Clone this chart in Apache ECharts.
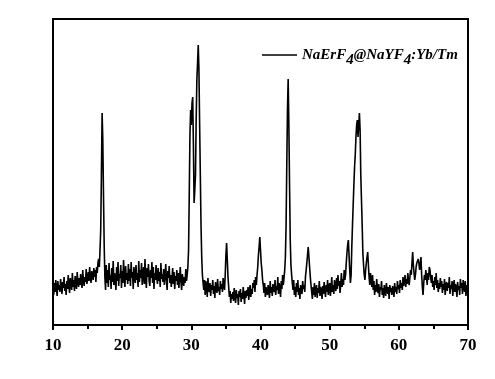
<!DOCTYPE html>
<html>
<head>
<meta charset="utf-8">
<script src="https://cdn.jsdelivr.net/npm/echarts@6/dist/echarts.min.js"></script>
<style>html,body{margin:0;padding:0;background:#fff}#c{width:495px;height:379px}</style>
</head>
<body>
<div id="c"></div>
<script>
// 2-theta scan: start 10 deg, step 0.1 deg
const twoThetaStart = 10;
const twoThetaStep = 0.1;
const xTicks = [10, 20, 30, 40, 50, 60, 70];
const seriesName = 'NaErF4@NaYF4:Yb/Tm';
// intensity (arbitrary units), one value per step
const intensity = [
38,30,42,33,45,36,29,44,35,40,
33,46,38,31,43,37,48,34,41,30,
44,36,50,39,32,47,40,35,52,38,
45,34,49,41,36,53,43,38,47,40,
51,42,37,55,44,39,48,43,56,41,
46,53,44,58,47,42,54,49,45,57,
48,55,43,58,52,62,66,58,75,95,
150,212,185,130,80,48,35,60,42,55,
38,62,45,50,36,57,43,64,40,52,
46,35,58,44,63,39,51,47,60,37,
54,42,65,48,38,59,45,52,41,61,
44,56,39,63,47,53,36,58,49,42,
60,45,52,38,64,43,55,47,62,40,
50,58,41,66,46,37,57,48,61,44,
39,55,47,63,42,58,36,52,45,60,
48,41,57,44,53,38,62,46,51,43,
56,40,49,61,45,35,54,47,59,42,
50,38,46,57,41,53,36,49,44,55,
40,52,37,47,58,43,35,51,45,39,
48,42,56,44,50,58,75,130,190,215,
200,222,228,180,122,135,150,205,245,262,
280,255,200,150,100,68,50,42,35,45,
30,44,38,28,47,36,33,42,29,40,
35,45,31,39,27,43,37,32,46,34,
38,30,44,36,41,33,47,40,35,50,
70,82,65,48,38,28,34,22,31,26,
33,24,37,29,22,35,27,31,20,34,
28,36,23,32,26,38,30,21,34,27,
35,29,38,25,33,40,28,36,31,42,
37,45,33,48,40,50,58,70,78,88,
75,62,55,45,40,32,42,28,38,33,
30,40,35,27,44,32,38,29,41,36,
33,45,30,39,35,48,31,42,37,28,
44,36,50,40,47,55,68,100,160,215,
246,200,140,85,60,50,42,35,45,30,
38,28,42,33,45,30,37,26,40,34,
31,44,36,40,33,48,55,62,70,78,
68,58,48,40,33,26,38,30,42,28,
35,40,27,37,32,44,29,38,34,26,
39,31,43,35,28,40,33,45,30,37,
42,29,36,48,33,40,31,45,38,34,
47,36,50,39,44,32,41,52,38,46,
40,55,45,50,62,72,80,85,70,55,
42,50,78,100,120,140,158,170,188,200,
205,188,200,212,195,150,125,100,72,60,
50,45,55,62,68,73,60,48,40,52,
45,38,50,35,44,30,40,33,46,36,
32,41,28,38,35,44,30,37,27,40,
34,29,42,36,31,38,26,40,33,37,
30,39,35,28,42,33,38,31,44,36,
40,32,45,37,42,35,48,39,44,50,
38,46,41,52,44,40,48,55,50,62,
73,60,52,45,50,58,62,60,66,62,
55,60,68,50,38,30,42,50,45,55,
48,40,52,45,58,55,48,42,50,38,
44,35,48,40,52,37,45,33,42,36,
47,38,44,32,41,35,46,30,39,43,
34,42,37,48,31,40,36,44,29,38,
45,33,41,36,28,43,35,39,30,46,
37,42,31,45,38,33,44,29,40,35,
28
];

const data = intensity.map((v, i) => [+(twoThetaStart + i * twoThetaStep).toFixed(2), v]);

const chart = echarts.init(document.getElementById('c'), null, {renderer: 'canvas'});
const font = '"Liberation Serif", "Times New Roman", serif';
chart.setOption({
  animation: false,
  backgroundColor: '#fff',
  grid: {left: 53, right: 27, top: 19, bottom: 54, show: true, borderColor: '#000', borderWidth: 2, backgroundColor: 'transparent'},
  legend: {
    show: true,
    left: 257, top: 37,
    itemWidth: 35, itemHeight: 1.6, itemGap: 2,
    icon: 'rect',
    data: [seriesName],
    formatter: () => '{a|NaErF}{s|4}{a|@NaYF}{s|4}{a|:Yb/Tm}',
    itemStyle: {color: '#000'},
    textStyle: {
      color: '#000',
      rich: {
        a: {fontFamily: font, fontStyle: 'italic', fontWeight: 'bold', fontSize: 15, color: '#000', lineHeight: 17},
        s: {fontFamily: font, fontStyle: 'italic', fontWeight: 'bold', fontSize: 15, color: '#000', lineHeight: 17, padding: [11, 0, 0, 0]}
      }
    }
  },
  xAxis: {
    type: 'value', min: xTicks[0], max: xTicks[xTicks.length - 1], interval: 10,
    axisLine: {show: true, onZero: false, lineStyle: {color: '#000', width: 2}},
    axisTick: {show: true, inside: false, length: 5, lineStyle: {color: '#000', width: 2}},
    minorTick: {show: true, splitNumber: 2, length: 4, lineStyle: {color: '#000', width: 2}},
    splitLine: {show: false},
    axisLabel: {color: '#000', fontFamily: font, fontWeight: 'bold', fontSize: 17, margin: 12}
  },
  yAxis: {
    type: 'value', min: 0, max: 306,
    axisLine: {show: true, lineStyle: {color: '#000', width: 2}},
    axisTick: {show: false}, axisLabel: {show: false}, splitLine: {show: false}
  },
  series: [{
    name: seriesName,
    type: 'line', data: data, symbol: 'none', showSymbol: false,
    lineStyle: {color: '#000', width: 1.6}, itemStyle: {color: '#000'}
  }]
});
</script>
</body>
</html>
